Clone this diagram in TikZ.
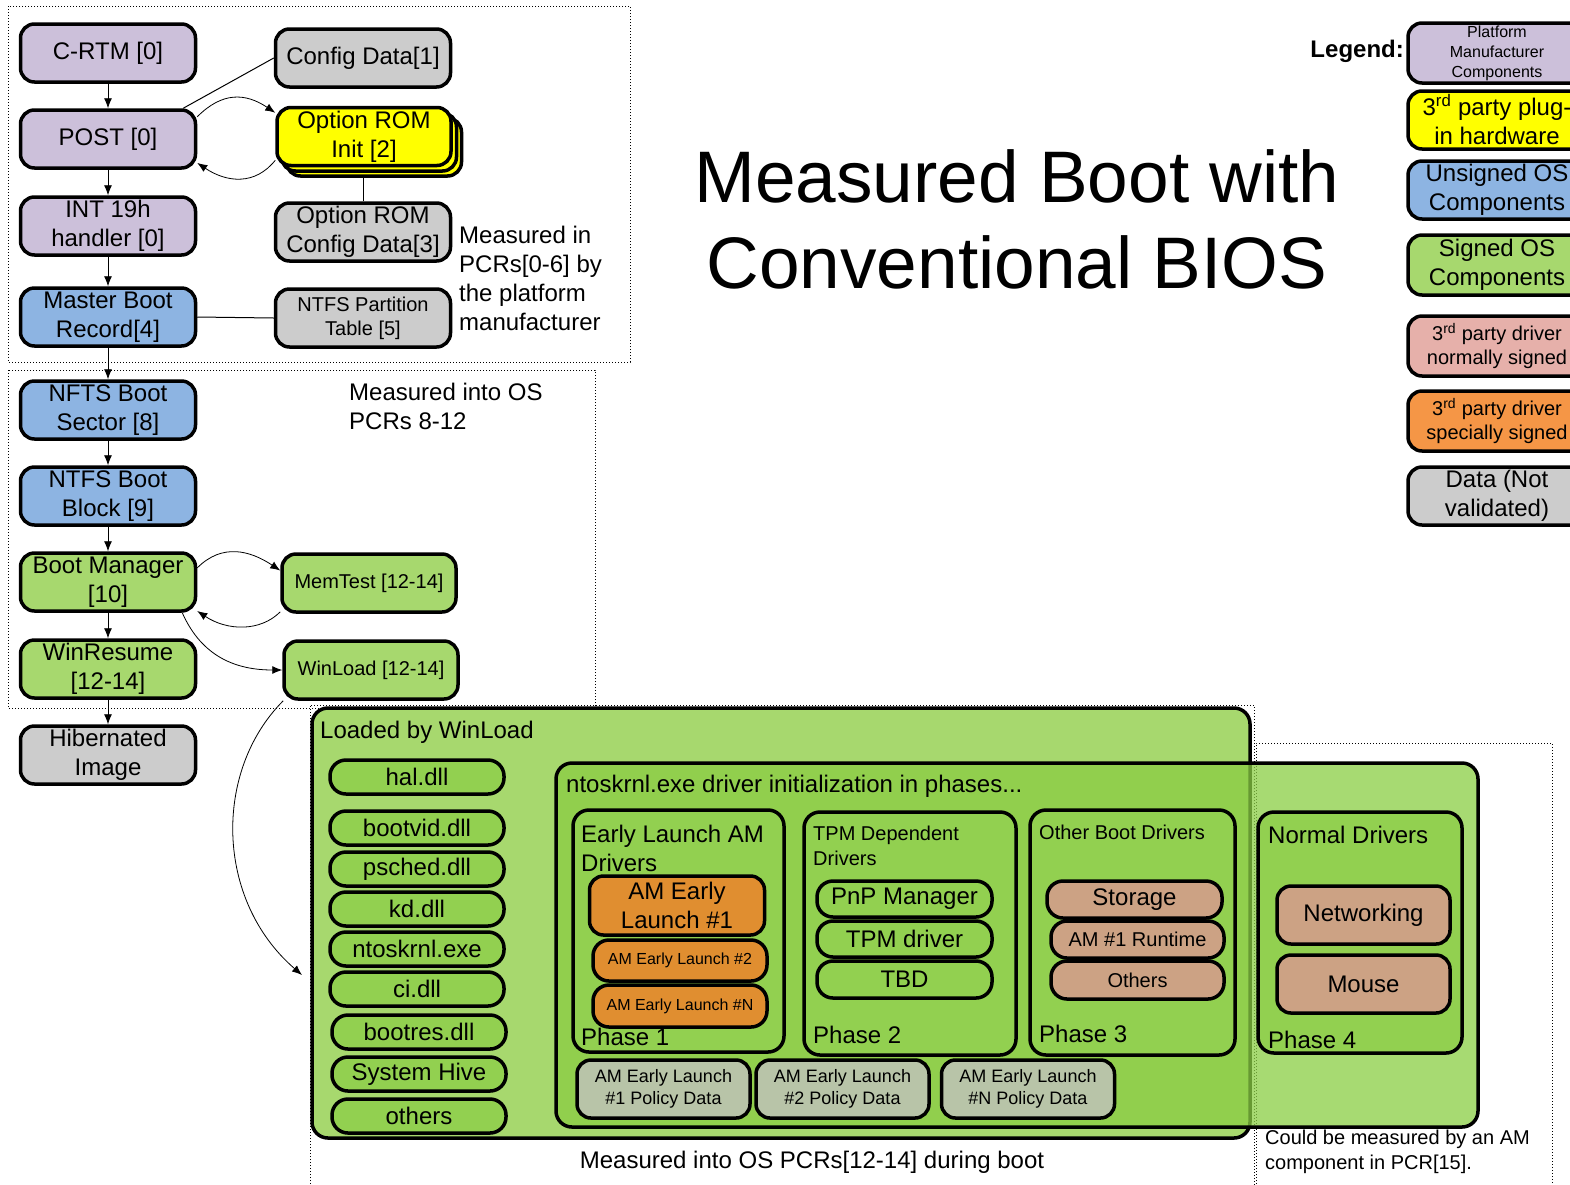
\documentclass[tikz,border=0pt]{standalone}
\usepackage{fontspec}
\setmainfont{Liberation Sans}
\usetikzlibrary{arrows.meta}

\definecolor{pmcol}{RGB}{204,192,218}
\definecolor{hwcol}{RGB}{255,255,0}
\definecolor{uoscol}{RGB}{141,180,226}
\definecolor{soscol}{RGB}{167,216,110}
\definecolor{drvcol}{RGB}{146,208,80}
\definecolor{ntcol}{RGB}{138,205,67}
\definecolor{datcol}{RGB}{204,204,204}
\definecolor{nsgcol}{RGB}{230,176,170}
\definecolor{ssgcol}{RGB}{245,150,70}
\definecolor{amcol}{RGB}{224,142,48}
\definecolor{tancol}{RGB}{204,162,132}
\definecolor{polcol}{RGB}{184,196,168}

\newcommand{\fsz}[2]{\fontsize{#1}{#2}\selectfont}

\begin{document}
\begin{tikzpicture}[x=1pt,y=-1pt,
	comp/.style={
		draw,
		line width=3.5pt,
		rounded corners=14pt,
		minimum width=175pt,
		minimum height=58pt,
		inner sep=1pt,
		align=center,
		font=\fsz{24}{29}
	},
	pill/.style={
		draw,
		line width=3.5pt,
		rounded corners=16pt,
		fill=drvcol,
		minimum width=174pt,
		minimum height=34pt,
		inner sep=0pt,
		font=\fsz{24}{29}
	},
	area/.style={
		draw,
		line width=3.5pt,
		rounded corners=16pt,
		inner sep=0pt
	},
	lbl/.style={
		anchor=west,
		align=left,
		inner sep=0pt,
		font=\fsz{24}{29}
	},
	dots/.style={line width=1pt, dash pattern=on 1pt off 2pt},
	arr/.style={-{Latex[length=10pt,width=8pt]}, line width=0.8pt}
	]
	\useasboundingbox (0,0) rectangle (1570,1184);
	
	% measured regions
	\draw[dots] (8,6) rectangle (630,362);
	\draw[dots] (8,370) rectangle (595,708);
	\draw[dots] (310,1190) |- (1254,705) -- (1254,1190);
	\draw[dots] (1256,1190) |- (1552,743) -- (1552,1190);
	
	% platform part
	\node[comp, fill=pmcol] at (108,53) (crtm) {C-RTM [0]};
	\node[comp, fill=pmcol] at (108,139) (post) {POST [0]};
	\node[comp, fill=pmcol] at (108,226) (int19) {INT 19h\\handler [0]};
	\node[comp, fill=uoscol] at (108,317) (mbr) {Master Boot\\Record[4]};
	\node[comp, fill=uoscol] at (108,410) (nbs) {NFTS Boot\\Sector [8]};
	\node[comp, fill=uoscol] at (108,496) (nbb) {NTFS Boot\\Block [9]};
	\node[comp, fill=soscol] at (108,582) (bmgr) {Boot Manager\\{[10]}};
	\node[comp, fill=soscol] at (108,669) (wres) {WinResume\\{[12-14]}};
	\node[comp, fill=datcol] at (108,755) (hib) {Hibernated\\Image};
	
	\node[comp, fill=datcol] at (363,58) (cfg) {Config Data[1]};
	\node[comp, fill=hwcol] at (374,147) (orom-c) {};
	\node[comp, fill=hwcol] at (369,142) (orom-b) {};
	\node[comp, fill=hwcol, minimum width=174pt] at (364,136.5) (orom) {Option ROM\\Init [2]};
	\node[comp, fill=datcol] at (363,232) (ocfg) {Option ROM\\Config Data[3]};
	\node[comp, fill=datcol, font=\fsz{20}{24}] at (363,318) (ntpt) {NTFS Partition\\Table [5]};
	\node[comp, fill=soscol, minimum width=174pt, font=\fsz{20}{24}] at (369,583) (memt) {MemTest [12-14]};
	\node[comp, fill=soscol, minimum width=174pt, font=\fsz{20}{24}] at (371,670) (wload) {WinLoad [12-14]};
	
	\node[lbl] at (459,278) (pcr06) {Measured in\\PCRs[0-6] by\\the platform\\manufacturer};
	\node[lbl] at (349,406) (pcr812) {Measured into OS\\PCRs 8-12};
	
	\draw[arr] (crtm) -- (post);
	\draw[arr] (post) -- (int19);
	\draw[arr] (int19) -- (mbr);
	\draw[arr] (mbr) -- (nbs);
	\draw[arr] (nbs) -- (nbb);
	\draw[arr] (nbb) -- (bmgr);
	\draw[arr] (bmgr) -- (wres);
	\draw[arr] (wres) -- (hib);
	
	\draw[line width=1pt] ([xshift=-14pt]post.north east) -- (cfg.west);
	\draw[arr] (post.14) .. controls +(25,-25) and +(-30,-20) .. (orom.165);
	\draw[arr] (orom.195) .. controls +(-20,25) and +(30,20) .. (post.345);
	\draw[line width=1pt] (ocfg.north) -- (ocfg.north |- orom-c.south);
	\draw[line width=1pt] (mbr.east) -- (ntpt.west);
	\draw[arr] (bmgr.9) .. controls +(25,-25) and +(-30,-20) .. (memt.172);
	\draw[arr] (memt.198) .. controls +(-20,20) and +(30,20) .. (bmgr.342);
	\draw[arr] ([xshift=-15pt]bmgr.south east) .. controls +(20,45) and +(-45,0) .. (wload.west);
	
	% title and legend
	\node[align=center, font=\fsz{73}{86}] at (1017,219) (title) {Measured Boot with\\Conventional BIOS};
	\node[anchor=east, inner sep=0pt, font=\fsz{24}{29}\bfseries] at (1404,51) (legend) {Legend:};
	\node[comp, fill=pmcol, minimum width=178pt, minimum height=60pt, font=\fsz{16}{20}] at (1497,53) (lg1) {Platform\\Manufacturer\\Components};
	\node[comp, fill=hwcol, minimum width=178pt] at (1497,120) (lg2) {3\textsuperscript{rd} party plug-\\in hardware};
	\node[comp, fill=uoscol, minimum width=178pt] at (1497,190) (lg3) {Unsigned OS\\Components};
	\node[comp, fill=soscol, minimum width=178pt, minimum height=60pt] at (1497,265) (lg4) {Signed OS\\Components};
	\node[comp, fill=nsgcol, minimum width=178pt, minimum height=60pt, font=\fsz{20}{24}] at (1497,346) (lg5) {3\textsuperscript{rd} party driver\\normally signed};
	\node[comp, fill=ssgcol, minimum width=178pt, minimum height=60pt, font=\fsz{20}{24}] at (1497,421) (lg6) {3\textsuperscript{rd} party driver\\specially signed};
	\node[comp, fill=datcol, minimum width=178pt] at (1497,496) (lg7) {Data (Not\\validated)};
	
	% loaded by winload
	\node[area, fill=soscol, minimum width=938pt, minimum height=430pt] at (781,923) (loaded) {};
	\node[lbl] at (320,732) (ldtxt) {Loaded by WinLoad};
	\node[pill] at (417,777) (hal) {hal.dll};
	\node[pill] at (417,828) (bvid) {bootvid.dll};
	\node[pill] at (417,869) (psch) {psched.dll};
	\node[pill] at (417,909) (kd) {kd.dll};
	\node[pill] at (417,949) (ntos) {ntoskrnl.exe};
	\node[pill] at (417,989) (ci) {ci.dll};
	\node[pill] at (419,1032) (bres) {bootres.dll};
	\node[pill] at (419,1074) (hive) {System Hive};
	\node[pill] at (419,1116) (oth) {others};
	\coordinate (wlin) at (302,975);
	\draw[arr] ([xshift=1pt]wload.south west) .. controls +(-70,70) and +(-87,-75) .. (wlin);
	
	% driver phases
	\node[area, fill=ntcol, fill opacity=0.75, minimum width=922pt, minimum height=364pt] at (1017,945) (ntk) {};
	\node[lbl] at (566,786) (nttxt) {ntoskrnl.exe driver initialization in phases...};
	
	\node[area, fill=drvcol, minimum width=211pt, minimum height=242pt] at (678.5,931) (ph1) {};
	\node[lbl] at (581,848) (ph1t) {Early Launch AM\\Drivers};
	\node[lbl] at (581,1037) (ph1n) {Phase 1};
	\node[comp, fill=amcol, minimum width=175pt, minimum height=59pt] at (677,905.5) (am1) {AM Early\\Launch \#1};
	\node[comp, fill=amcol, rounded corners=16pt, minimum width=174pt, minimum height=41pt, font=\fsz{16}{20}] at (680,960.5) (am2) {AM Early Launch \#2};
	\node[comp, fill=amcol, rounded corners=16pt, minimum width=174pt, minimum height=42pt, font=\fsz{16}{20}] at (680,1006) (amn) {AM Early Launch \#N};
	
	\node[area, fill=drvcol, minimum width=212pt, minimum height=243pt] at (910,933.5) (ph2) {};
	\node[lbl, font=\fsz{20}{25}] at (813,846) (ph2t) {TPM Dependent\\Drivers};
	\node[lbl] at (813,1035) (ph2n) {Phase 2};
	\node[pill, minimum width=175pt, minimum height=36pt] at (904.5,899) (pnp) {PnP Manager};
	\node[pill, minimum width=175pt, minimum height=36pt] at (904.5,939) (tpmd) {TPM driver};
	\node[pill, minimum width=175pt, minimum height=37pt] at (904.5,979.5) (tbd) {TBD};
	
	\node[area, fill=drvcol, minimum width=205pt, minimum height=245pt] at (1132.5,932.5) (ph3) {};
	\node[lbl, font=\fsz{20}{25}] at (1039,832) (ph3t) {Other Boot Drivers};
	\node[lbl] at (1039,1034) (ph3n) {Phase 3};
	\node[pill, fill=tancol, minimum width=175pt, minimum height=37pt] at (1134.5,899.5) (stor) {Storage};
	\node[pill, fill=tancol, minimum width=173pt, minimum height=37pt, font=\fsz{20}{24}] at (1137.5,939.5) (amrt) {AM \#1 Runtime};
	\node[pill, fill=tancol, minimum width=173pt, minimum height=38pt, font=\fsz{20}{24}] at (1137.5,980) (othd) {Others};
	
	\node[area, fill=drvcol, minimum width=204pt, minimum height=241pt] at (1360,932.5) (ph4) {};
	\node[lbl] at (1268,835) (ph4t) {Normal Drivers};
	\node[lbl] at (1268,1040) (ph4n) {Phase 4};
	\node[comp, fill=tancol, minimum width=173pt] at (1363.5,915) (netw) {Networking};
	\node[comp, fill=tancol, minimum width=173pt] at (1363.5,984) (mouse) {Mouse};
	
	\node[comp, fill=polcol, minimum width=173pt, font=\fsz{18}{22}] at (663.5,1089) (pol1) {AM Early Launch\\\#1 Policy Data};
	\node[comp, fill=polcol, minimum width=173pt, font=\fsz{18}{22}] at (842.5,1089) (pol2) {AM Early Launch\\\#2 Policy Data};
	\node[comp, fill=polcol, minimum width=173pt, font=\fsz{18}{22}] at (1028,1089) (poln) {AM Early Launch\\\#N Policy Data};
	
	\node[font=\fsz{24}{29}, inner sep=0pt] at (812,1162) (pcr1214) {Measured into OS PCRs[12-14] during boot};
	\node[lbl, font=\fsz{20}{25}] at (1265,1152) (pcr15) {Could be measured by an AM\\component in PCR[15].};
	
\end{tikzpicture}
\end{document}
